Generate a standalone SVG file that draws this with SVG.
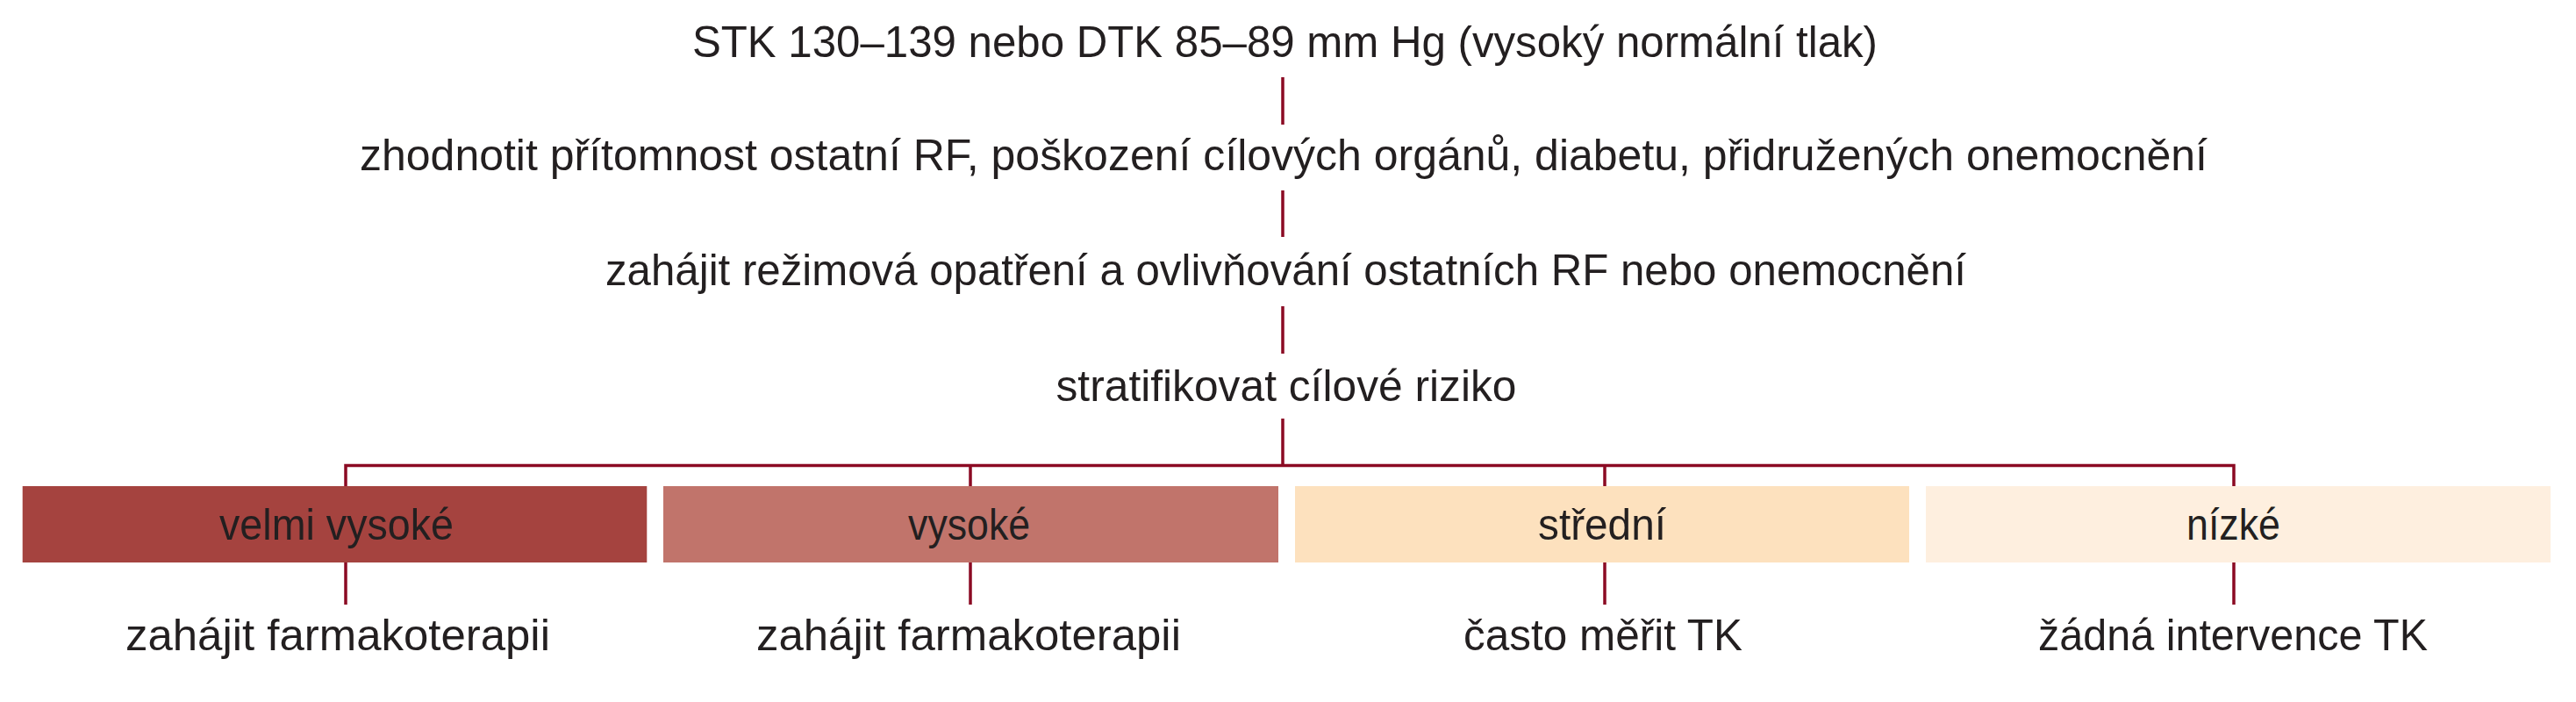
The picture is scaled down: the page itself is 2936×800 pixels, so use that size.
<svg xmlns="http://www.w3.org/2000/svg" width="2936" height="800" viewBox="0 0 2936 800">
<style>
text{font-family:"Liberation Sans",Arial,sans-serif;font-size:50px;fill:#231f20;text-anchor:middle}
.c{fill:none;stroke:#8b0a23;stroke-width:3.5}
</style>
<rect width="2936" height="800" fill="#ffffff"/>
<g id="connectors">
<path class="c" d="M1462,88V142M1462,217V270M1462,349V403M1462,477V530"/>
<path class="c" d="M394,554V530.5H2546V554M1106,530.5V554M1829,530.5V554"/>
<path class="c" d="M394,641V689M1106,641V689M1829,641V689M2546,641V689"/>
</g>
<g id="n-start"><text x="1464.5" y="65" textLength="1351" lengthAdjust="spacingAndGlyphs">STK 130–139 nebo DTK 85–89 mm Hg (vysoký normální tlak)</text></g>
<g id="n-evaluate"><text x="1463" y="194" textLength="2106" lengthAdjust="spacingAndGlyphs">zhodnotit přítomnost ostatní RF, poškození cílových orgánů, diabetu, přidružených onemocnění</text></g>
<g id="n-lifestyle"><text x="1465.5" y="325" textLength="1551" lengthAdjust="spacingAndGlyphs">zahájit režimová opatření a ovlivňování ostatních RF nebo onemocnění</text></g>
<g id="n-stratify"><text x="1466" y="457" textLength="525" lengthAdjust="spacingAndGlyphs">stratifikovat cílové riziko</text></g>
<g id="n-very-high"><rect x="25.7" y="554" width="711.6" height="87" fill="#a5433f"/><text x="383.5" y="615" textLength="267" lengthAdjust="spacingAndGlyphs">velmi vysoké</text></g>
<g id="n-high"><rect x="756" y="554" width="701" height="87" fill="#c1746b"/><text x="1104.6" y="615" textLength="139" lengthAdjust="spacingAndGlyphs">vysoké</text></g>
<g id="n-medium"><rect x="1476" y="554" width="700" height="87" fill="#fde1be"/><text x="1826" y="615" textLength="146" lengthAdjust="spacingAndGlyphs">střední</text></g>
<g id="n-low"><rect x="2195" y="554" width="712" height="87" fill="#feefdf"/><text x="2545.5" y="615" textLength="107" lengthAdjust="spacingAndGlyphs">nízké</text></g>
<g id="n-act1"><text x="385" y="741" textLength="484" lengthAdjust="spacingAndGlyphs">zahájit farmakoterapii</text></g>
<g id="n-act2"><text x="1104" y="741" textLength="484" lengthAdjust="spacingAndGlyphs">zahájit farmakoterapii</text></g>
<g id="n-act3"><text x="1827" y="741" textLength="318" lengthAdjust="spacingAndGlyphs">často měřit TK</text></g>
<g id="n-act4"><text x="2545" y="741" textLength="444" lengthAdjust="spacingAndGlyphs">žádná intervence TK</text></g>
</svg>
